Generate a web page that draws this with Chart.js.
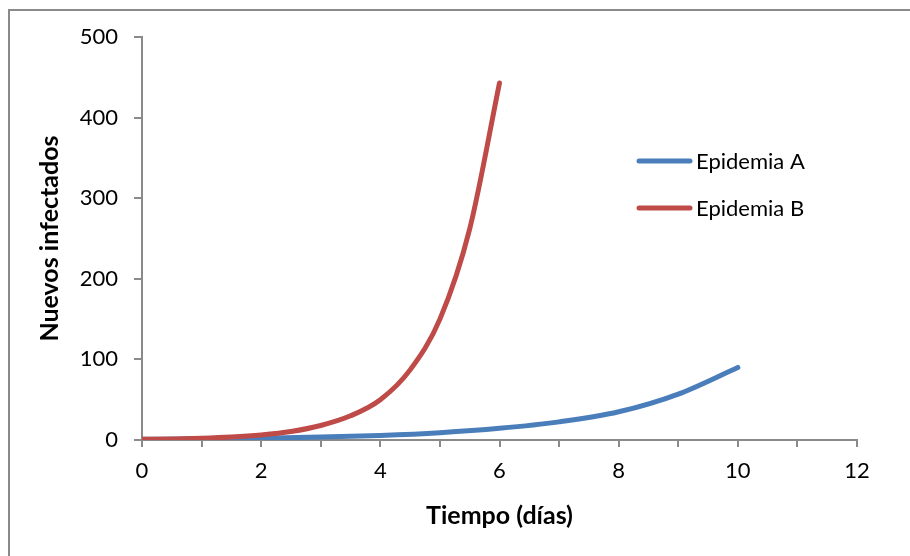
<!DOCTYPE html>
<html>
<head>
<meta charset="utf-8">
<script src="https://cdn.jsdelivr.net/npm/chart.js@4/dist/chart.umd.min.js"></script>
<style>
  html, body { margin: 0; padding: 0; background: #fff; }
  #wrap { position: relative; width: 910px; height: 556px; overflow: hidden; }
  #frame { position: absolute; left: 8px; top: 9px; width: 940px; height: 600px; border: 2px solid #8a8a8a; }
  #chart { position: absolute; left: 0; top: 0; }
</style>
</head>
<body>
<div id="wrap">
  <div id="frame"></div>
  <canvas id="chart" width="910" height="556"></canvas>
</div>
<script>
// datos
const timeA = [0, 1, 2, 3, 4, 5, 6, 7, 8, 9, 10];
const valuesA = [0.9, 1.4, 2.2, 3.6, 5.7, 9.1, 14.5, 22.5, 35, 57, 90];
const timeB = [0, 0.5, 1, 1.5, 2, 2.5, 3, 3.5, 4, 4.5, 5, 5.5, 6];
const valuesB = [0.8, 1.3, 2.1, 3.6, 6.2, 10.5, 18, 30, 50, 87, 150, 262, 443];
const labels = ["Epidemia A", "Epidemia B"];
const colors = ["#4a7ebb", "#be4b48"];
const xTicks = [0, 2, 4, 6, 8, 10, 12];

const fontFam = "Lato, 'Open Sans', sans-serif";

const toPoints = (xs, ys) => xs.map((x, i) => ({ x: x, y: ys[i] }));

// leyenda dentro del área de trazado
const insideLegend = {
  id: "insideLegend",
  afterDraw(chart) {
    const ctx = chart.ctx;
    ctx.save();
    ctx.font = "22px " + fontFam;
    ctx.textBaseline = "middle";
    ctx.lineCap = "round";
    chart.data.datasets.forEach((ds, i) => {
      const y = 161 + i * 47;
      ctx.strokeStyle = ds.borderColor;
      ctx.lineWidth = 5;
      ctx.beginPath();
      ctx.moveTo(639, y);
      ctx.lineTo(690, y);
      ctx.stroke();
      ctx.fillStyle = "#000";
      ctx.fillText(ds.label, 696, y + 1);
    });
    ctx.restore();
  },
};

new Chart(document.getElementById("chart"), {
  type: "line",
  data: {
    datasets: [
      {
        label: labels[0],
        data: toPoints(timeA, valuesA),
        borderColor: colors[0],
        backgroundColor: colors[0],
        borderWidth: 5,
        borderCapStyle: "round",
        pointRadius: 0,
        cubicInterpolationMode: "monotone",
        order: 1,
      },
      {
        label: labels[1],
        data: toPoints(timeB, valuesB),
        borderColor: colors[1],
        backgroundColor: colors[1],
        borderWidth: 5,
        borderCapStyle: "round",
        pointRadius: 0,
        cubicInterpolationMode: "monotone",
        order: 0,
      },
    ],
  },
  options: {
    responsive: false,
    animation: false,
    layout: { padding: { left: 0, top: 37, right: 53, bottom: 0 } },
    plugins: {
      legend: { display: false },
      tooltip: { enabled: false },
    },
    scales: {
      x: {
        type: "linear",
        min: 0,
        max: 12,
        ticks: {
          stepSize: 1,
          color: "#000",
          font: { family: fontFam, size: 22 },
          padding: 11,
          maxRotation: 0,
          autoSkip: false,
          callback: (v) => (xTicks.includes(v) ? v : ""),
        },
        grid: { drawOnChartArea: false, drawTicks: true, tickLength: 7, color: "#8a8a8a", lineWidth: 2 },
        border: { color: "#8a8a8a", width: 2 },
        title: {
          display: true,
          text: "Tiempo (días)",
          color: "#000",
          font: { family: fontFam, size: 25, weight: "bold" },
          padding: { top: 0, bottom: 25 },
        },
        afterFit: (scale) => { scale.height = 116; },
      },
      y: {
        min: 0,
        max: 500,
        ticks: {
          stepSize: 100,
          color: "#000",
          font: { family: fontFam, size: 22 },
          padding: 16,
        },
        grid: { drawOnChartArea: false, drawTicks: true, tickLength: 8, color: "#8a8a8a", lineWidth: 2 },
        border: { color: "#8a8a8a", width: 2 },
        title: {
          display: true,
          text: "Nuevos infectados",
          color: "#000",
          font: { family: fontFam, size: 25, weight: "bold" },
          padding: { top: 35, bottom: 0 },
        },
        afterFit: (scale) => { scale.width = 142; },
      },
    },
  },
  plugins: [insideLegend],
});
</script>
</body>
</html>
